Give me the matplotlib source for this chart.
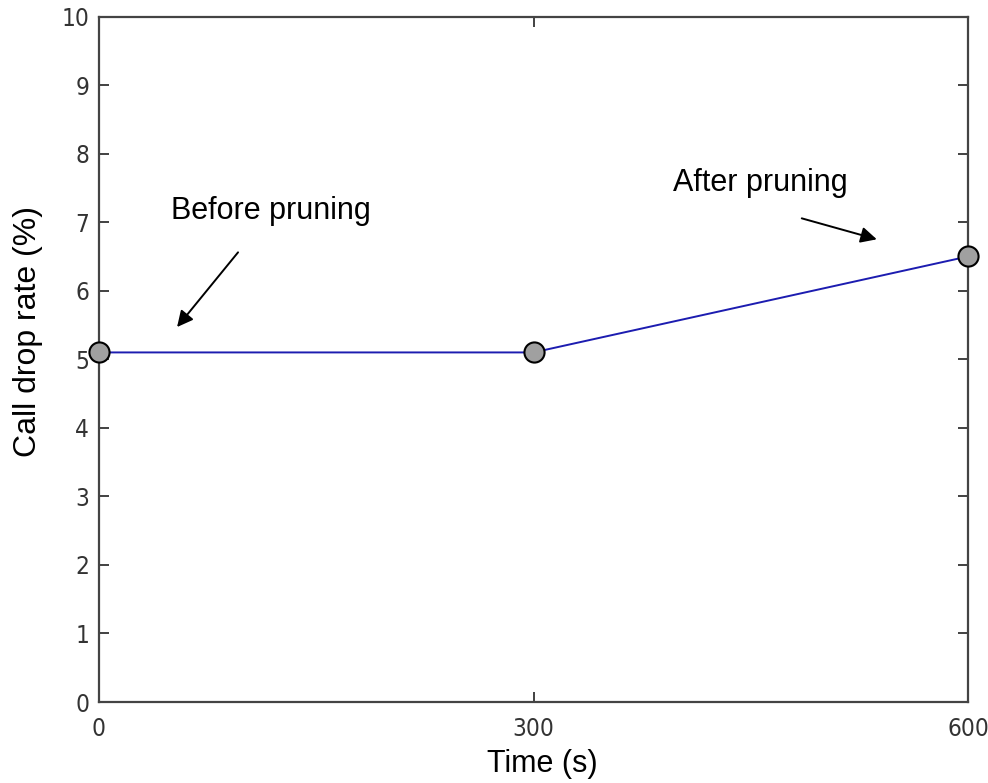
import matplotlib
matplotlib.use('Agg')
import matplotlib.pyplot as plt

time_s = [0, 300, 600]
drop_rate = [5.1, 5.1, 6.5]
x_ticks = [0, 300, 600]
y_ticks = list(range(0, 11))

fig = plt.figure(figsize=(9.88, 7.83), dpi=100)
ax = fig.add_axes([0.1002, 0.1034, 0.8796, 0.8755])

ax.plot(time_s, drop_rate, color='#1c1cb0', linewidth=1.4, marker='o',
        markersize=14.5, markerfacecolor='#a0a0a0', markeredgecolor='black',
        markeredgewidth=1.5, clip_on=False, zorder=5)

ax.set_xlim(0, 600)
ax.set_ylim(0, 10)
ax.set_xticks(x_ticks)
ax.set_yticks(y_ticks)
for lab in ax.get_xticklabels() + ax.get_yticklabels():
    lab.set_family('DejaVu Sans')
    lab.set_stretch('condensed')
    lab.set_fontsize(17.5)
    lab.set_color('#333333')
ax.tick_params(direction='in', length=7, width=1.3, top=True, right=True,
               colors='#333333')
ax.tick_params(axis='y', pad=7)
ax.tick_params(axis='x', pad=11)
for sp in ax.spines.values():
    sp.set_color('#444444')
    sp.set_linewidth(1.6)

ax.set_xlabel('Time (s)', family='Liberation Sans', fontsize=22)
ax.set_ylabel('Call drop rate (%)', family='Liberation Sans', fontsize=23)
ax.xaxis.set_label_coords(0.51, -0.069)
ax.yaxis.set_label_coords(-0.0644, 0.541)

ax.text(118.8, 7.16, 'Before pruning', family='Liberation Sans', fontsize=22,
        ha='center', va='center')
ax.text(456.5, 7.57, 'After pruning', family='Liberation Sans', fontsize=22,
        ha='center', va='center')

arrow = dict(arrowstyle='-|>', color='black', lw=1.4, mutation_scale=24,
             shrinkA=0, shrinkB=0)
ax.annotate('', xy=(53.9, 5.47), xytext=(96, 6.56), arrowprops=arrow)
ax.annotate('', xy=(537, 6.75), xytext=(485.2, 7.056), arrowprops=arrow)

fig.savefig('out.png', dpi=100)
